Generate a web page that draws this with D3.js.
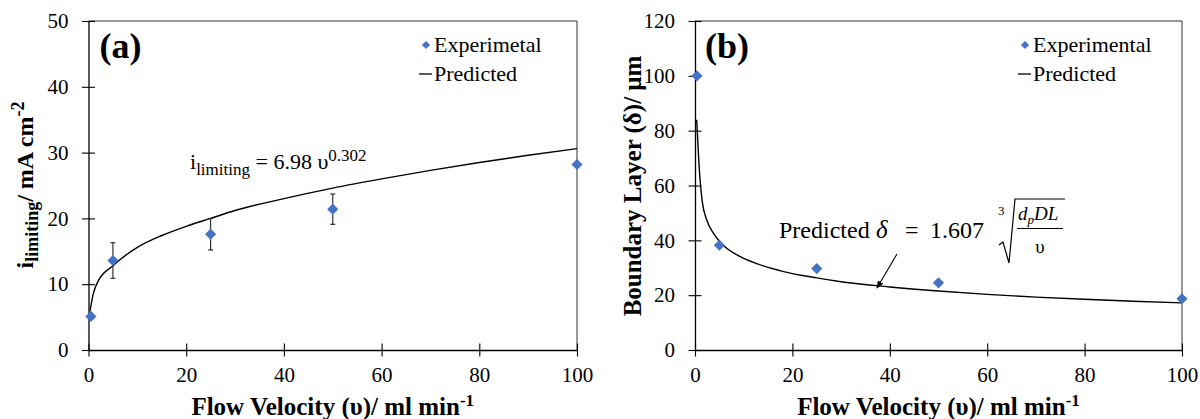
<!DOCTYPE html>
<html>
<head>
<meta charset="utf-8">
<script src="https://cdn.jsdelivr.net/npm/d3@7"></script>
</head>
<body style="margin:0; background:#fff">
<svg id="chart" width="1200" height="419"></svg>
<script>
// shared x ticks (flow velocity, ml/min)
var xTicks = [0, 20, 40, 60, 80, 100];

// (a) limiting current density
var velocityA = [0.5, 5, 25, 50, 100];
var currentA = [5.1, 13.6, 17.6, 21.4, 28.2];
var currentErrA = [0, 2.7, 2.4, 2.3, 0];
var predVelA = [0.3, 1, 2, 5, 10, 15, 20, 25, 30, 40, 50, 60, 70, 80, 90, 100];
var predCurrentA = [5.9, 8.6, 10.5, 12.8, 15.6, 17.4, 18.8, 20.0, 21.2, 23.0, 24.6, 26.0, 27.3, 28.5, 29.6, 30.6];
var yTicksA = [0, 10, 20, 30, 40, 50];

// (b) boundary layer thickness
var velocityB = [0.4, 5, 25, 50, 100];
var layerB = [100, 38.2, 29.7, 24.5, 18.7];
var predVelB = [0.35, 0.6, 1, 1.5, 2.4, 3.8, 5.8, 9, 13, 18, 25, 30, 40, 50, 60, 70, 80, 90, 100];
var predLayerB = [84, 75, 63, 54, 47.5, 42.5, 38.2, 34.3, 31.3, 28.7, 26.3, 24.9, 23.0, 21.5, 20.3, 19.3, 18.5, 17.8, 17.2];
var yTicksB = [0, 20, 40, 60, 80, 100, 120];

var font = "'Liberation Serif'";
var svg = d3.select('#chart');
var blue = '#4472C4';

function drawPanel(opt) {
    var x = d3.scaleLinear().domain([0, 100]).range([opt.left, opt.right]);
    var y = d3.scaleLinear().domain([0, opt.yMax]).range([opt.bottom, opt.top]);
    var g = svg.append('g');

    // top + right frame
    g.append('path')
        .attr('d', 'M' + opt.left + ',' + opt.top + 'H' + opt.right + 'V' + opt.bottom)
        .attr('fill', 'none')
        .attr('stroke', '#333')
        .attr('stroke-width', 1);

    var xAxis = g.append('g')
        .attr('transform', 'translate(0,' + opt.bottom + ')')
        .call(d3.axisBottom(x).tickValues(xTicks).tickSize(6.5).tickSizeOuter(0).tickPadding(11));
    var yAxis = g.append('g')
        .attr('transform', 'translate(' + opt.left + ',0)')
        .call(d3.axisLeft(y).tickValues(opt.yTicks).tickSize(6.5).tickSizeOuter(0).tickPadding(13.5));

    [xAxis, yAxis].forEach(function (a) {
        a.attr('font-family', null).attr('font-size', null);
        a.select('.domain').attr('stroke', '#000').attr('stroke-width', 1.3);
        a.selectAll('.tick line').attr('stroke', '#000').attr('stroke-width', 1.1);
        a.selectAll('.tick text').attr('fill', '#000').attr('font-size', 21);
    });
    xAxis.selectAll('.tick line').attr('y1', -6.5);
    yAxis.selectAll('.tick line').attr('x1', 6.5);

    // predicted curve
    var line = d3.line()
        .x(d => x(d[0]))
        .y(d => y(d[1]))
        .curve(d3.curveMonotoneX);
    g.append('path')
        .datum(d3.zip(opt.predX, opt.predY))
        .attr('d', line)
        .attr('fill', 'none')
        .attr('stroke', '#000')
        .attr('stroke-width', 1.4);

    // error bars
    if (opt.err) {
        var pts = d3.zip(opt.ptX, opt.ptY, opt.err).filter(d => d[2] > 0);
        var eb = g.selectAll('.err').data(pts).enter().append('g').attr('class', 'err')
            .attr('stroke', '#222').attr('stroke-width', 1.1);
        eb.append('line')
            .attr('x1', d => x(d[0])).attr('x2', d => x(d[0]))
            .attr('y1', d => y(d[1] - d[2])).attr('y2', d => y(d[1] + d[2]));
        eb.append('line')
            .attr('x1', d => x(d[0]) - 2.5).attr('x2', d => x(d[0]) + 2.5)
            .attr('y1', d => y(d[1] + d[2])).attr('y2', d => y(d[1] + d[2]));
        eb.append('line')
            .attr('x1', d => x(d[0]) - 2.5).attr('x2', d => x(d[0]) + 2.5)
            .attr('y1', d => y(d[1] - d[2])).attr('y2', d => y(d[1] - d[2]));
    }

    // diamonds
    var diamond = d3.symbol().type(d3.symbolSquare).size(62);
    g.selectAll('.pt')
        .data(d3.zip(opt.ptX, opt.ptY))
        .enter()
        .append('path')
        .attr('class', 'pt')
        .attr('d', diamond)
        .attr('transform', d => 'translate(' + x(d[0]) + ',' + y(d[1]) + ') rotate(45)')
        .attr('fill', blue);

    // panel letter
    g.append('text')
        .attr('x', opt.left + opt.labelDx)
        .attr('y', 58)
        .attr('font-size', 36)
        .attr('font-weight', 'bold')
        .text(opt.label);

    // legend
    g.append('path')
        .attr('d', d3.symbol().type(d3.symbolSquare).size(34))
        .attr('transform', 'translate(' + (opt.legendX - 8) + ',45) rotate(45)')
        .attr('fill', blue);
    g.append('text').attr('x', opt.legendX).attr('y', 52).attr('font-size', 22).text(opt.legendPts);
    g.append('line')
        .attr('x1', opt.legendX - 15).attr('x2', opt.legendX - 2)
        .attr('y1', 74).attr('y2', 74)
        .attr('stroke', '#000').attr('stroke-width', 1.3);
    g.append('text').attr('x', opt.legendX).attr('y', 81).attr('font-size', 22).text('Predicted');

    // x title
    var xt = g.append('text')
        .attr('x', (opt.left + opt.right) / 2)
        .attr('y', 415)
        .attr('text-anchor', 'middle')
        .attr('font-size', 25)
        .attr('font-weight', 'bold');
    xt.append('tspan').text('Flow Velocity (\u03C5)/ ml min');
    xt.append('tspan').attr('font-size', 17).attr('dy', -9).text('-1');

    return { g: g, x: x, y: y };
}

var pa = drawPanel({
    left: 88.5, right: 577, top: 21, bottom: 350,
    yMax: 50, yTicks: yTicksA,
    predX: predVelA, predY: predCurrentA,
    ptX: velocityA, ptY: currentA, err: currentErrA,
    label: '(a)', labelDx: 11, legendX: 434, legendPts: 'Experimetal'
});

var pb = drawPanel({
    left: 695, right: 1182, top: 21, bottom: 350,
    yMax: 120, yTicks: yTicksB,
    predX: predVelB, predY: predLayerB,
    ptX: velocityB, ptY: layerB,
    label: '(b)', labelDx: 10, legendX: 1033, legendPts: 'Experimental'
});

// y title (a)
var yta = svg.append('text')
    .attr('transform', 'translate(33,185) rotate(-90)')
    .attr('text-anchor', 'middle')
    .attr('font-size', 24)
    .attr('font-weight', 'bold');
yta.append('tspan').text('i');
yta.append('tspan').attr('font-size', 18).attr('dy', 5).text('limiting');
yta.append('tspan').attr('dy', -5).text('/ mA cm');
yta.append('tspan').attr('font-size', 18).attr('dy', -9).text('-2');

// y title (b)
svg.append('text')
    .attr('transform', 'translate(641,186) rotate(-90)')
    .attr('text-anchor', 'middle')
    .attr('font-size', 25)
    .attr('font-weight', 'bold')
    .text('Boundary Layer (\u03B4)/ \u03BCm');

// equation (a)
var eq = pa.g.append('text').attr('x', 190).attr('y', 169).attr('font-size', 22);
eq.append('tspan').text('i');
eq.append('tspan').attr('font-size', 17).attr('dy', 6).text('limiting');
eq.append('tspan').attr('dy', -6).text(' = 6.98 \u03C5');
eq.append('tspan').attr('font-size', 17).attr('dy', -8).text('0.302');

// equation (b)
var gb = pb.g;
gb.append('text').attr('x', 779).attr('y', 238).attr('font-size', 24).text('Predicted');
gb.append('text').attr('x', 876).attr('y', 238).attr('font-size', 25).attr('font-style', 'italic').text('\u03B4');
gb.append('text').attr('x', 905).attr('y', 238).attr('font-size', 24).text('=');
gb.append('text').attr('x', 930).attr('y', 238).attr('font-size', 24).text('1.607');
gb.append('text').attr('x', 998).attr('y', 215).attr('font-size', 13).text('3');
gb.append('path')
    .attr('d', 'M999,245 L1003,242 L1009,263 L1015,199 L1065,199')
    .attr('fill', 'none').attr('stroke', '#000').attr('stroke-width', 1.2);
var num = gb.append('text').attr('x', 1018).attr('y', 220).attr('font-size', 19).attr('font-style', 'italic');
num.append('tspan').text('d');
num.append('tspan').attr('font-size', 13).attr('dy', 4).text('p');
num.append('tspan').attr('dy', -4).text('DL');
gb.append('line').attr('x1', 1017).attr('x2', 1063).attr('y1', 228.5).attr('y2', 228.5)
    .attr('stroke', '#000').attr('stroke-width', 1.1);
gb.append('text').attr('x', 1040).attr('y', 253).attr('font-size', 19).attr('text-anchor', 'middle').text('\u03C5');

// arrow to the curve
svg.append('defs').append('marker')
    .attr('id', 'arr').attr('viewBox', '0 0 10 10').attr('refX', 9).attr('refY', 5)
    .attr('markerWidth', 7).attr('markerHeight', 7).attr('orient', 'auto')
    .append('path').attr('d', 'M0,1 L10,5 L0,9 Z').attr('fill', '#000');
gb.append('line')
    .attr('x1', 897).attr('y1', 254).attr('x2', 877).attr('y2', 288)
    .attr('stroke', '#000').attr('stroke-width', 1.1)
    .attr('marker-end', 'url(#arr)');

// serif everywhere (set on each text, as inheritance did not pick it up)
svg.selectAll('text').style('font-family', font);
</script>
</body>
</html>
